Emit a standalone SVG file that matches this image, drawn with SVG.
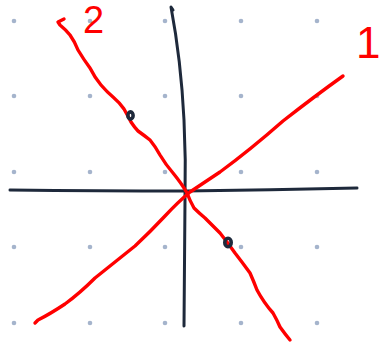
<svg xmlns="http://www.w3.org/2000/svg" width="384" height="345" viewBox="0 0 384 345">
<style>
.dot{fill:#a5b4cc}
.axis{fill:none;stroke:#1e293b;stroke-width:3;stroke-linecap:round;stroke-linejoin:round}
.red{fill:none;stroke:#ff0000;stroke-width:3.4;stroke-linecap:round;stroke-linejoin:round}
.pt{fill:none;stroke:#1e293b;stroke-width:3.6}
.lbl{fill:#ff0000;font-family:"Liberation Sans","DejaVu Sans",sans-serif}
</style>
<rect width="384" height="345" fill="#ffffff"/>
<g id="grid">
<circle class="dot" cx="14" cy="21" r="2.3"/><circle class="dot" cx="90" cy="21" r="2.3"/><circle class="dot" cx="165" cy="21" r="2.3"/><circle class="dot" cx="241" cy="21" r="2.3"/><circle class="dot" cx="317" cy="21" r="2.3"/>
<circle class="dot" cx="14" cy="96" r="2.3"/><circle class="dot" cx="90" cy="96" r="2.3"/><circle class="dot" cx="165" cy="96" r="2.3"/><circle class="dot" cx="241" cy="96" r="2.3"/><circle class="dot" cx="317" cy="96" r="2.3"/>
<circle class="dot" cx="14" cy="172" r="2.3"/><circle class="dot" cx="90" cy="172" r="2.3"/><circle class="dot" cx="165" cy="172" r="2.3"/><circle class="dot" cx="241" cy="172" r="2.3"/><circle class="dot" cx="317" cy="172" r="2.3"/>
<circle class="dot" cx="14" cy="247" r="2.3"/><circle class="dot" cx="90" cy="247" r="2.3"/><circle class="dot" cx="165" cy="247" r="2.3"/><circle class="dot" cx="241" cy="247" r="2.3"/><circle class="dot" cx="317" cy="247" r="2.3"/>
<circle class="dot" cx="14" cy="323" r="2.3"/><circle class="dot" cx="90" cy="323" r="2.3"/><circle class="dot" cx="165" cy="323" r="2.3"/><circle class="dot" cx="241" cy="323" r="2.3"/><circle class="dot" cx="317" cy="323" r="2.3"/>
</g>
<g id="axes">
<path class="axis" d="M173,10 L171,7 Q181,60 184,120 Q186,160 185,200 L184,326"/>
<path class="axis" d="M10,190 Q100,191 185,191 Q270,190 357,188"/>
</g>
<g id="line1">
<path class="red" d="M35,323 L38,320 Q50,314 65,304 Q80,293 95,278 Q115,262 135,246 Q150,232 165,216 Q178,202 190,192 Q205,182 220,172 Q250,150 283,121 Q315,96 343,76"/>
</g>
<g id="line2">
<path class="red" d="M64,19 L58,22 L60,25 Q66,30 70,35 Q75,42 78,50 Q84,60 90,68 Q95,78 101,85 Q107,92 113,97 Q120,103 124,109 Q128,116 131,122 Q135,128 138,131 Q145,136 150,140 Q155,146 160,155 Q166,165 173,173 Q182,184 187,193 Q190,201 194,208 Q199,213 205,218 Q212,225 220,233 Q228,243 235,253 Q242,262 250,273 Q254,282 257,290 Q264,303 273,313 Q277,320 280,327 Q285,334 290,340"/>
</g>
<g id="points">
<ellipse class="pt" cx="130.5" cy="115.5" rx="2.6" ry="3.6"/>
<ellipse class="pt" cx="228" cy="242.5" rx="3.2" ry="4.2"/>
</g>
<g id="labels">
<text class="lbl" x="83" y="33" font-size="38">2</text>
<text class="lbl" x="356" y="58" font-size="44">1</text>
</g>
</svg>
